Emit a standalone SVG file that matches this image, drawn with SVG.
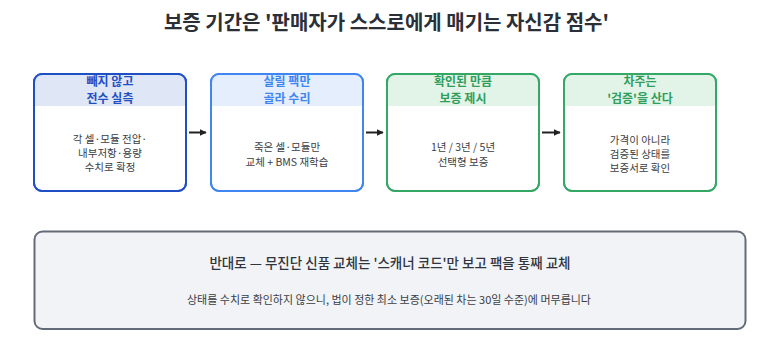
<svg xmlns="http://www.w3.org/2000/svg" width="773" height="342" viewBox="0 0 773 342">
<defs>
<style>
text{font-family:"Noto Sans CJK KR","Noto Sans",sans-serif;text-anchor:middle}
.title{font-size:20px;font-weight:700;fill:#2b2f38}
.hd{font-size:12px;font-weight:700}
.body{font-size:10.5px;fill:#3a3d44}
.box{stroke-width:2;fill:#fff}
.conn line{stroke:#222;stroke-width:2}
.bh{font-size:13.5px;font-weight:500;fill:#30343c}
.bs{font-size:11px;fill:#3a3d44}
</style>
<marker id="ah" viewBox="0 0 10 10" refX="9" refY="5" markerWidth="3.5" markerHeight="3.5" orient="auto" markerUnits="strokeWidth">
<path d="M0,0 L10,5 L0,10 z" fill="#222"/>
</marker>
<clipPath id="c1"><rect x="34" y="74" width="152" height="117" rx="8"/></clipPath>
<clipPath id="c2"><rect x="211" y="74" width="152" height="117" rx="8"/></clipPath>
<clipPath id="c3"><rect x="387" y="74" width="152" height="117" rx="8"/></clipPath>
<clipPath id="c4"><rect x="564" y="74" width="152" height="117" rx="8"/></clipPath>
</defs>
<rect width="773" height="342" fill="#fff"/>
<text class="title" x="386.5" y="30">보증 기간은 '판매자가 스스로에게 매기는 자신감 점수'</text>

<g id="node1">
<rect x="34" y="74" width="152" height="117" rx="8" class="box" stroke="#1f4fc4"/>
<rect x="34" y="74" width="152" height="32" fill="#dfe6f6" clip-path="url(#c1)"/>
<rect x="34" y="74" width="152" height="117" rx="8" fill="none" stroke="#1f4fc4" stroke-width="2"/>
<text class="hd" fill="#1f4fc4"><tspan x="110" y="86">빼지 않고</tspan><tspan x="110" y="103">전수 실측</tspan></text>
<text class="body"><tspan x="110" y="143">각 셀·모듈 전압·</tspan><tspan x="110" y="157">내부저항·용량</tspan><tspan x="110" y="171">수치로 확정</tspan></text>
</g>

<g id="node2">
<rect x="211" y="74" width="152" height="117" rx="8" class="box" stroke="#3f86f2"/>
<rect x="211" y="74" width="152" height="32" fill="#e5eefd" clip-path="url(#c2)"/>
<rect x="211" y="74" width="152" height="117" rx="8" fill="none" stroke="#3f86f2" stroke-width="2"/>
<text class="hd" fill="#3f86f2"><tspan x="287" y="86">살릴 팩만</tspan><tspan x="287" y="103">골라 수리</tspan></text>
<text class="body"><tspan x="287" y="150.5">죽은 셀·모듈만</tspan><tspan x="287" y="165.5">교체 + BMS 재학습</tspan></text>
</g>

<g id="node3">
<rect x="387" y="74" width="152" height="117" rx="8" class="box" stroke="#35a866"/>
<rect x="387" y="74" width="152" height="32" fill="#e2f3e8" clip-path="url(#c3)"/>
<rect x="387" y="74" width="152" height="117" rx="8" fill="none" stroke="#35a866" stroke-width="2"/>
<text class="hd" fill="#2f9e5c"><tspan x="463" y="86">확인된 만큼</tspan><tspan x="463" y="103">보증 제시</tspan></text>
<text class="body"><tspan x="463" y="150.5">1년 / 3년 / 5년</tspan><tspan x="463" y="165.5">선택형 보증</tspan></text>
</g>

<g id="node4">
<rect x="564" y="74" width="152" height="117" rx="8" class="box" stroke="#35a866"/>
<rect x="564" y="74" width="152" height="32" fill="#e2f3e8" clip-path="url(#c4)"/>
<rect x="564" y="74" width="152" height="117" rx="8" fill="none" stroke="#35a866" stroke-width="2"/>
<text class="hd" fill="#2f9e5c"><tspan x="640" y="86">차주는</tspan><tspan x="640" y="103">'검증'을 산다</tspan></text>
<text class="body"><tspan x="640" y="144">가격이 아니라</tspan><tspan x="640" y="158">검증된 상태를</tspan><tspan x="640" y="172">보증서로 확인</tspan></text>
</g>

<g id="connectors" class="conn">
<line x1="189" y1="132.5" x2="206" y2="132.5" marker-end="url(#ah)"/>
<line x1="366" y1="132.5" x2="383" y2="132.5" marker-end="url(#ah)"/>
<line x1="542" y1="132.5" x2="560" y2="132.5" marker-end="url(#ah)"/>
</g>

<g id="note">
<rect x="34.5" y="231.5" width="711" height="97.5" rx="8" fill="#f1f3f7" stroke="#646b78" stroke-width="2"/>
<text class="bh" x="390" y="268">반대로 — 무진단 신품 교체는 '스캐너 코드'만 보고 팩을 통째 교체</text>
<text class="bs" x="389" y="304">상태를 수치로 확인하지 않으니, 법이 정한 최소 보증(오래된 차는 30일 수준)에 머무릅니다</text>
</g>
</svg>
